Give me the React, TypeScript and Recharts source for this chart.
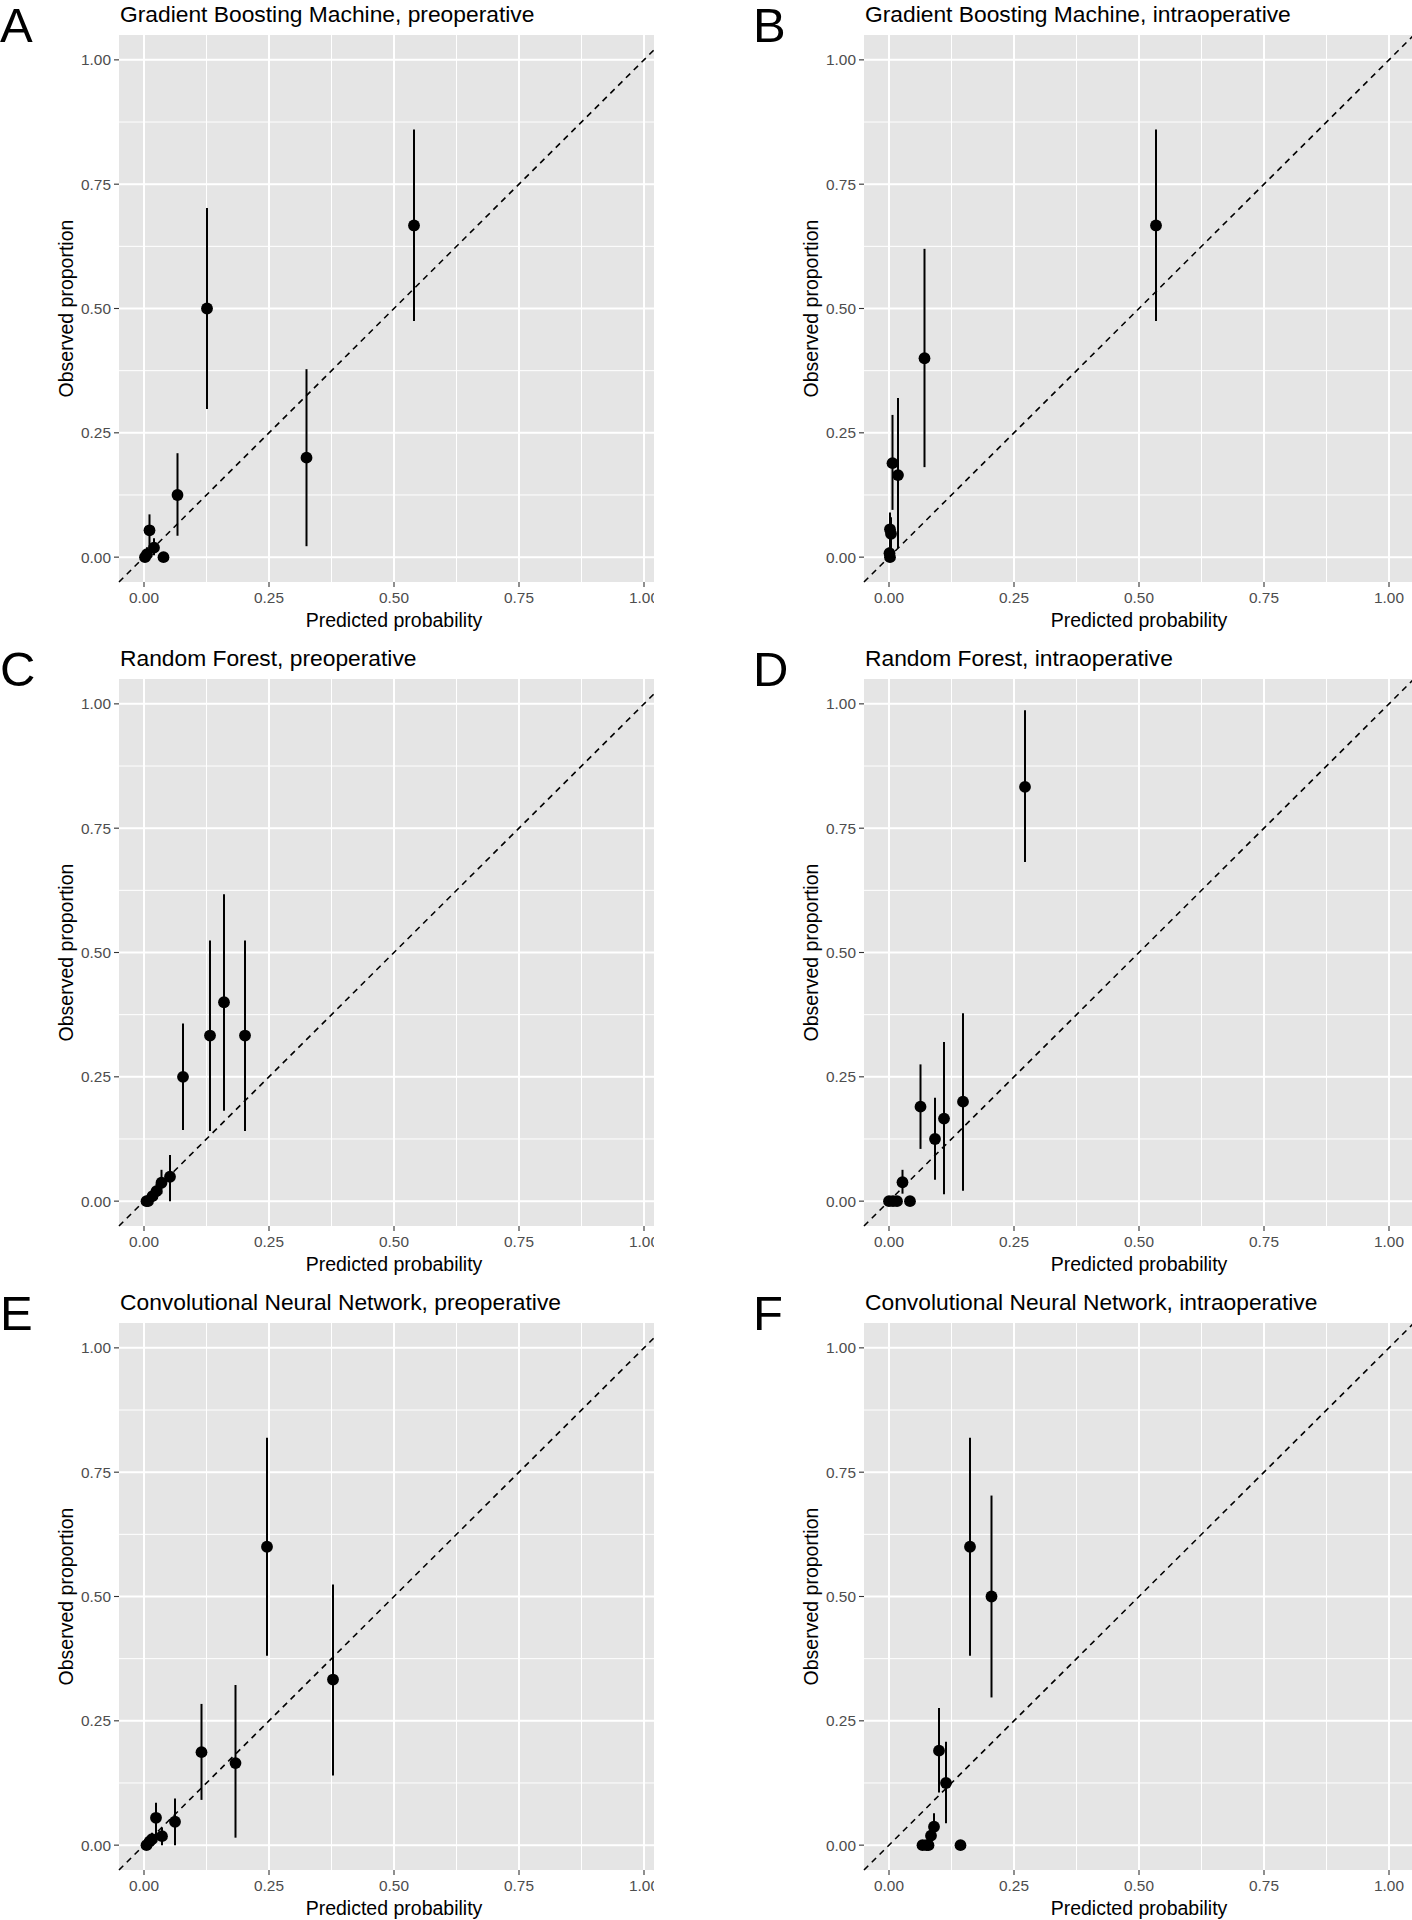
import React from 'react';
import { ScatterChart, Scatter, XAxis, YAxis, CartesianGrid, ErrorBar, ReferenceLine } from 'recharts';

// ---- axis ticks ----
const MAJOR_TICKS = [0, 0.25, 0.5, 0.75, 1];
const MINOR_TICKS = [0.125, 0.375, 0.625, 0.875];
const AXIS_MIN = -0.05;
const AXIS_MAX = 1.05;

// ---- Panel A: Gradient Boosting Machine, preoperative ----
const GBM_PRE_PRED = [0.002, 0.006, 0.011, 0.02, 0.039, 0.067, 0.126, 0.325, 0.54];
const GBM_PRE_OBS = [0.0, 0.006, 0.054, 0.019, 0.0, 0.125, 0.5, 0.2, 0.667];
const GBM_PRE_LO = [0.0, 0.0, 0.014, 0.004, 0.0, 0.043, 0.298, 0.022, 0.475];
const GBM_PRE_HI = [0.01, 0.02, 0.086, 0.038, 0.0, 0.209, 0.702, 0.378, 0.86];

// ---- Panel B: Gradient Boosting Machine, intraoperative ----
const GBM_INTRA_PRED = [0.001, 0.002, 0.002, 0.004, 0.007, 0.018, 0.071, 0.534];
const GBM_INTRA_OBS = [0.008, 0.0, 0.056, 0.047, 0.189, 0.165, 0.4, 0.667];
const GBM_INTRA_LO = [0.0, 0.0, 0.02, 0.015, 0.095, 0.018, 0.181, 0.475];
const GBM_INTRA_HI = [0.02, 0.01, 0.09, 0.08, 0.286, 0.32, 0.62, 0.86];

// ---- Panel C: Random Forest, preoperative ----
const RF_PRE_PRED = [0.005, 0.008, 0.017, 0.025, 0.035, 0.052, 0.078, 0.132, 0.16, 0.202];
const RF_PRE_OBS = [0.0, 0.0, 0.01, 0.02, 0.037, 0.049, 0.25, 0.333, 0.4, 0.333];
const RF_PRE_LO = [0.0, 0.0, 0.0, 0.005, 0.015, 0.0, 0.143, 0.141, 0.182, 0.141];
const RF_PRE_HI = [0.0, 0.005, 0.02, 0.035, 0.063, 0.093, 0.357, 0.524, 0.617, 0.524];

// ---- Panel D: Random Forest, intraoperative ----
const RF_INTRA_PRED = [0.0, 0.008, 0.016, 0.027, 0.042, 0.063, 0.092, 0.11, 0.148, 0.272];
const RF_INTRA_OBS = [0.0, 0.0, 0.0, 0.038, 0.0, 0.19, 0.125, 0.166, 0.2, 0.833];
const RF_INTRA_LO = [0.0, 0.0, 0.0, 0.015, 0.0, 0.105, 0.043, 0.014, 0.021, 0.682];
const RF_INTRA_HI = [0.0, 0.0, 0.0, 0.063, 0.0, 0.275, 0.208, 0.32, 0.378, 0.987];

// ---- Panel E: Convolutional Neural Network, preoperative ----
const CNN_PRE_PRED = [0.005, 0.011, 0.016, 0.024, 0.036, 0.062, 0.115, 0.183, 0.246, 0.378];
const CNN_PRE_OBS = [0.0, 0.007, 0.012, 0.055, 0.018, 0.047, 0.187, 0.165, 0.6, 0.333];
const CNN_PRE_LO = [0.0, 0.0, 0.002, 0.018, 0.0, 0.0, 0.091, 0.015, 0.381, 0.14];
const CNN_PRE_HI = [0.0, 0.015, 0.025, 0.085, 0.035, 0.094, 0.284, 0.322, 0.819, 0.524];

// ---- Panel F: Convolutional Neural Network, intraoperative ----
const CNN_INTRA_PRED = [0.067, 0.075, 0.079, 0.084, 0.09, 0.1, 0.114, 0.143, 0.162, 0.205];
const CNN_INTRA_OBS = [0.0, 0.0, 0.0, 0.019, 0.037, 0.19, 0.125, 0.0, 0.6, 0.5];
const CNN_INTRA_LO = [0.0, 0.0, 0.0, 0.005, 0.015, 0.106, 0.044, 0.0, 0.381, 0.297];
const CNN_INTRA_HI = [0.0, 0.0, 0.0, 0.035, 0.064, 0.276, 0.208, 0.0, 0.819, 0.703];

const PANEL_LETTERS = ['A', 'B', 'C', 'D', 'E', 'F'];
const PANEL_TITLES = [
  'Gradient Boosting Machine, preoperative',
  'Gradient Boosting Machine, intraoperative',
  'Random Forest, preoperative',
  'Random Forest, intraoperative',
  'Convolutional Neural Network, preoperative',
  'Convolutional Neural Network, intraoperative',
];
const X_TITLE = 'Predicted probability';
const Y_TITLE = 'Observed proportion';

const PANEL_SERIES = [
  [GBM_PRE_PRED, GBM_PRE_OBS, GBM_PRE_LO, GBM_PRE_HI],
  [GBM_INTRA_PRED, GBM_INTRA_OBS, GBM_INTRA_LO, GBM_INTRA_HI],
  [RF_PRE_PRED, RF_PRE_OBS, RF_PRE_LO, RF_PRE_HI],
  [RF_INTRA_PRED, RF_INTRA_OBS, RF_INTRA_LO, RF_INTRA_HI],
  [CNN_PRE_PRED, CNN_PRE_OBS, CNN_PRE_LO, CNN_PRE_HI],
  [CNN_INTRA_PRED, CNN_INTRA_OBS, CNN_INTRA_LO, CNN_INTRA_HI],
];

// ---- layout ----
const FONT = "'Liberation Sans', Arial, Helvetica, sans-serif";
const COL_X = [0, 745];
const COL_CLIP_W = [654, 667];
const ROW_Y = [0, 644, 1288];
const CHART_W = 672;
const CHART_H = 640;
const PLOT_TOP = 35;
const Y_AXIS_W = 119;
const X_AXIS_H = 58;
const PLOT_W = 550;
const PLOT_H = CHART_H - PLOT_TOP - X_AXIS_H;
const PANEL_BG = '#E5E5E5';

const Dot = (p: any) => <circle cx={p.cx} cy={p.cy} r={5.9} fill="#000" />;
const fmt = (v: number) => v.toFixed(2);

function Panel({ idx }: { idx: number }) {
  const [pred, obs, lo, hi] = PANEL_SERIES[idx];
  const data = pred.map((x, i) => ({ x, y: obs[i], err: [obs[i] - lo[i], hi[i] - obs[i]] }));
  return (
    <ScatterChart
      width={CHART_W}
      height={CHART_H}
      margin={{ top: PLOT_TOP, right: CHART_W - Y_AXIS_W - PLOT_W, bottom: 0, left: 0 }}
    >
      <CartesianGrid
        fill={PANEL_BG}
        fillOpacity={1}
        stroke="#FFFFFF"
        strokeWidth={1}
        horizontalValues={MINOR_TICKS}
        verticalValues={MINOR_TICKS}
      />
      <CartesianGrid
        stroke="#FFFFFF"
        strokeWidth={2}
        horizontalValues={MAJOR_TICKS}
        verticalValues={MAJOR_TICKS}
      />
      <XAxis
        type="number"
        dataKey="x"
        domain={[AXIS_MIN, AXIS_MAX]}
        allowDataOverflow
        ticks={MAJOR_TICKS}
        interval={0}
        tickFormatter={fmt}
        height={X_AXIS_H}
        axisLine={false}
        tickLine={{ stroke: '#333333', strokeWidth: 1.1 }}
        tickSize={5}
        tickMargin={5}
        tick={{ fill: '#4D4D4D', fontSize: 15.4, fontFamily: FONT }}
      />
      <YAxis
        type="number"
        dataKey="y"
        domain={[AXIS_MIN, AXIS_MAX]}
        allowDataOverflow
        ticks={MAJOR_TICKS}
        interval={0}
        tickFormatter={fmt}
        width={Y_AXIS_W}
        axisLine={false}
        tickLine={{ stroke: '#333333', strokeWidth: 1.1 }}
        tickSize={5}
        tickMargin={3}
        tick={{ fill: '#4D4D4D', fontSize: 15.4, fontFamily: FONT }}
      />
      <ReferenceLine
        segment={[{ x: AXIS_MIN, y: AXIS_MIN }, { x: AXIS_MAX, y: AXIS_MAX }]}
        stroke="#000"
        strokeWidth={1.6}
        strokeDasharray="6 5"
      />
      <Scatter data={data} shape={Dot} isAnimationActive={false}>
        <ErrorBar dataKey="err" direction="y" width={0} stroke="#000" strokeWidth={2} isAnimationActive={false} />
      </Scatter>
    </ScatterChart>
  );
}

export default function App() {
  const panels = PANEL_TITLES.map((_, i) => {
    const col = i % 2;
    const row = Math.floor(i / 2);
    return { i, col, row, left: COL_X[col], top: ROW_Y[row] };
  });
  return (
    <div
      style={{
        position: 'absolute',
        left: 0,
        top: 0,
        width: 1412,
        height: 1920,
        overflow: 'hidden',
        background: '#FFFFFF',
        fontFamily: FONT,
      }}
    >
      {panels.map((p) => (
        <div
          key={p.i}
          style={{
            position: 'absolute',
            left: p.left,
            top: p.top,
            width: COL_CLIP_W[p.col],
            height: CHART_H,
            overflow: 'hidden',
          }}
        >
          <Panel idx={p.i} />
        </div>
      ))}
      <svg
        width={1412}
        height={1920}
        style={{ position: 'absolute', left: 0, top: 0, pointerEvents: 'none' }}
      >
        {panels.map((p) => {
          const letterX = p.col === 0 ? p.left : p.left + 8;
          const yLabX = p.left + 73;
          const yLabY = p.top + PLOT_TOP + PLOT_H / 2;
          return (
            <g key={p.i} fontFamily={FONT}>
              <text x={letterX} y={p.top + 42} fontSize={49} fill="#000">
                {PANEL_LETTERS[p.i]}
              </text>
              <text x={p.left + Y_AXIS_W + 1} y={p.top + 22} fontSize={22.8} fill="#000">
                {PANEL_TITLES[p.i]}
              </text>
              <text
                x={p.left + Y_AXIS_W + PLOT_W / 2}
                y={p.top + 627}
                fontSize={19.5}
                fill="#000"
                textAnchor="middle"
              >
                {X_TITLE}
              </text>
              <text
                x={yLabX}
                y={yLabY}
                fontSize={19.5}
                fill="#000"
                textAnchor="middle"
                transform={`rotate(-90 ${yLabX} ${yLabY})`}
              >
                {Y_TITLE}
              </text>
            </g>
          );
        })}
      </svg>
    </div>
  );
}
